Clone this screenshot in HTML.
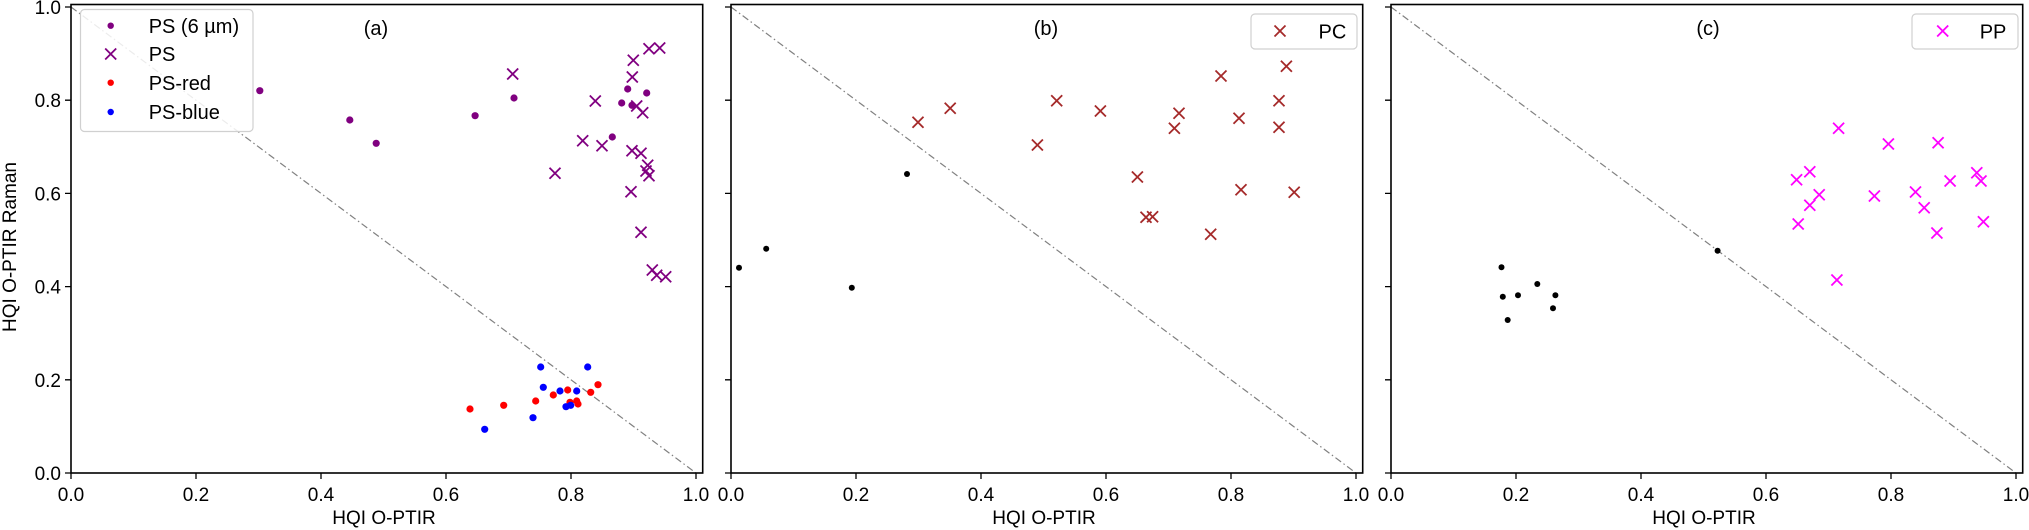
<!DOCTYPE html>
<html><head><meta charset="utf-8"><style>
html,body{margin:0;padding:0;background:#fff}
svg{display:block}
text{font-family:"Liberation Sans",sans-serif;fill:#000}
</style></head><body>
<svg width="2029" height="530" xmlns="http://www.w3.org/2000/svg">
<defs>
<g id="xp"><path d="M-5.5,-5.5L5.5,5.5M-5.5,5.5L5.5,-5.5" stroke="#800080" stroke-width="1.8"/></g>
<g id="xb"><path d="M-5.5,-5.5L5.5,5.5M-5.5,5.5L5.5,-5.5" stroke="#a52a2a" stroke-width="1.8"/></g>
<g id="xm"><path d="M-5.5,-5.5L5.5,5.5M-5.5,5.5L5.5,-5.5" stroke="#ff00ff" stroke-width="1.8"/></g>
</defs>

<!-- diagonals -->
<g stroke="#808080" stroke-width="1.2" stroke-dasharray="7,3,1.5,3" fill="none">
<line x1="71" y1="7" x2="696" y2="473"/>
<line x1="731" y1="7" x2="1356" y2="473"/>
<line x1="1391" y1="7" x2="2016" y2="473"/>
</g>

<!-- Panel a data -->
<g fill="#800080">
<circle cx="259.8" cy="90.7" r="3.6"/><circle cx="349.8" cy="120" r="3.6"/><circle cx="376.2" cy="143.3" r="3.6"/>
<circle cx="475.1" cy="115.7" r="3.6"/><circle cx="514" cy="98" r="3.6"/><circle cx="627.7" cy="89" r="3.6"/>
<circle cx="646.7" cy="93" r="3.6"/><circle cx="621.7" cy="103" r="3.6"/><circle cx="632" cy="105.3" r="3.6"/>
<circle cx="612.3" cy="137" r="3.6"/>
</g>
<g>
<use href="#xp" x="512.7" y="74"/><use href="#xp" x="595.3" y="101"/><use href="#xp" x="582.7" y="140.7"/>
<use href="#xp" x="602" y="145.7"/><use href="#xp" x="555" y="173.3"/><use href="#xp" x="633.3" y="60.3"/>
<use href="#xp" x="632.3" y="77"/><use href="#xp" x="649" y="48.7"/><use href="#xp" x="659.7" y="48"/>
<use href="#xp" x="636.7" y="106"/><use href="#xp" x="642.7" y="112.7"/><use href="#xp" x="632" y="150.7"/>
<use href="#xp" x="641" y="153.3"/><use href="#xp" x="647.7" y="165.3"/><use href="#xp" x="646" y="171"/>
<use href="#xp" x="649" y="175.7"/><use href="#xp" x="631" y="191.7"/><use href="#xp" x="641" y="232.3"/>
<use href="#xp" x="652.3" y="270"/><use href="#xp" x="656.7" y="275.3"/><use href="#xp" x="665.7" y="276.7"/>
</g>
<g fill="#ff0000">
<circle cx="470" cy="409" r="3.6"/><circle cx="503.7" cy="405.3" r="3.6"/><circle cx="535.7" cy="401" r="3.6"/>
<circle cx="553.3" cy="395" r="3.6"/><circle cx="567.7" cy="390" r="3.6"/><circle cx="590.7" cy="392.3" r="3.6"/>
<circle cx="598" cy="384.7" r="3.6"/><circle cx="570" cy="402.3" r="3.6"/><circle cx="576.7" cy="401" r="3.6"/>
<circle cx="578" cy="404" r="3.6"/>
</g>
<g fill="#0000ff">
<circle cx="540.7" cy="367" r="3.6"/><circle cx="587.7" cy="367" r="3.6"/><circle cx="543.3" cy="387.3" r="3.6"/>
<circle cx="560" cy="391" r="3.6"/><circle cx="576.7" cy="391" r="3.6"/><circle cx="566" cy="406.7" r="3.6"/>
<circle cx="570.7" cy="405.3" r="3.6"/><circle cx="533" cy="417.7" r="3.6"/><circle cx="484.7" cy="429.3" r="3.6"/>
</g>

<!-- Panel b data -->
<g>
<use href="#xb" x="918" y="122.3"/><use href="#xb" x="950.2" y="108.3"/><use href="#xb" x="1056.7" y="100.7"/>
<use href="#xb" x="1100.4" y="111"/><use href="#xb" x="1037.4" y="145"/><use href="#xb" x="1179" y="113.3"/>
<use href="#xb" x="1174.4" y="128.3"/><use href="#xb" x="1221" y="76"/><use href="#xb" x="1239" y="118.3"/>
<use href="#xb" x="1286.4" y="66.3"/><use href="#xb" x="1279" y="100.7"/><use href="#xb" x="1279" y="127.3"/>
<use href="#xb" x="1137.4" y="177"/><use href="#xb" x="1241" y="189.7"/><use href="#xb" x="1294.2" y="192.3"/>
<use href="#xb" x="1146" y="217.3"/><use href="#xb" x="1152.6" y="216.7"/><use href="#xb" x="1210.7" y="234.3"/>
</g>
<g fill="#000">
<circle cx="907" cy="174" r="3"/><circle cx="766.2" cy="248.7" r="3"/><circle cx="739" cy="267.7" r="3"/><circle cx="851.8" cy="287.7" r="3"/>
</g>

<!-- Panel c data -->
<g>
<use href="#xm" x="1838.6" y="128.3"/><use href="#xm" x="1888.4" y="144"/><use href="#xm" x="1938.1" y="142.7"/>
<use href="#xm" x="1809.8" y="171.7"/><use href="#xm" x="1796.6" y="179.7"/><use href="#xm" x="1819.2" y="194.7"/>
<use href="#xm" x="1809.8" y="205.3"/><use href="#xm" x="1798.2" y="224"/><use href="#xm" x="1874.4" y="196"/>
<use href="#xm" x="1915.5" y="192"/><use href="#xm" x="1924.2" y="207.7"/><use href="#xm" x="1950.1" y="181"/>
<use href="#xm" x="1976.8" y="172.7"/><use href="#xm" x="1981" y="181"/><use href="#xm" x="1983.4" y="221.7"/>
<use href="#xm" x="1936.9" y="233"/><use href="#xm" x="1836.9" y="280"/>
</g>
<g fill="#000">
<circle cx="1717.6" cy="250.7" r="3"/><circle cx="1501.5" cy="267.3" r="3"/><circle cx="1537.3" cy="284" r="3"/>
<circle cx="1502.8" cy="296.7" r="3"/><circle cx="1518" cy="295.3" r="3"/><circle cx="1555.4" cy="295.3" r="3"/>
<circle cx="1553" cy="308.3" r="3"/><circle cx="1507.7" cy="320" r="3"/>
</g>

<!-- spines -->
<g fill="none" stroke="#000" stroke-width="1.6">
<rect x="71" y="4.5" width="631.7" height="468.5"/>
<rect x="731" y="4.5" width="631.7" height="468.5"/>
<rect x="1391" y="4.5" width="631.7" height="468.5"/>
</g>

<!-- ticks -->
<g stroke="#000" stroke-width="1.3">
<path d="M71,473v6M196,473v6M321,473v6M446,473v6M571,473v6M696,473v6"/>
<path d="M731,473v6M856,473v6M981,473v6M1106,473v6M1231,473v6M1356,473v6"/>
<path d="M1391,473v6M1516,473v6M1641,473v6M1766,473v6M1891,473v6M2016,473v6"/>
<path d="M71,473h-6M71,379.8h-6M71,286.6h-6M71,193.4h-6M71,100.2h-6M71,7h-6"/>
<path d="M731,473h-6M731,379.8h-6M731,286.6h-6M731,193.4h-6M731,100.2h-6M731,7h-6"/>
<path d="M1391,473h-6M1391,379.8h-6M1391,286.6h-6M1391,193.4h-6M1391,100.2h-6M1391,7h-6"/>
</g>

<!-- tick labels -->
<g font-size="19" text-anchor="middle">
<text x="71" y="501">0.0</text><text x="196" y="501">0.2</text><text x="321" y="501">0.4</text><text x="446" y="501">0.6</text><text x="571" y="501">0.8</text><text x="696" y="501">1.0</text>
<text x="731" y="501">0.0</text><text x="856" y="501">0.2</text><text x="981" y="501">0.4</text><text x="1106" y="501">0.6</text><text x="1231" y="501">0.8</text><text x="1356" y="501">1.0</text>
<text x="1391" y="501">0.0</text><text x="1516" y="501">0.2</text><text x="1641" y="501">0.4</text><text x="1766" y="501">0.6</text><text x="1891" y="501">0.8</text><text x="2016" y="501">1.0</text>
</g>
<g font-size="19" text-anchor="end">
<text x="61" y="480">0.0</text><text x="61" y="386.8">0.2</text><text x="61" y="293.6">0.4</text><text x="61" y="200.4">0.6</text><text x="61" y="107.2">0.8</text><text x="61" y="14">1.0</text>
</g>

<!-- axis labels -->
<g font-size="19" text-anchor="middle">
<text x="384" y="524">HQI O-PTIR</text>
<text x="1044" y="524">HQI O-PTIR</text>
<text x="1704" y="524">HQI O-PTIR</text>
<text transform="translate(16,247) rotate(-90)">HQI O-PTIR Raman</text>
</g>

<!-- titles -->
<g font-size="20" text-anchor="middle">
<text x="376" y="35">(a)</text>
<text x="1046" y="35">(b)</text>
<text x="1708" y="35">(c)</text>
</g>

<!-- legend a -->
<rect x="80.5" y="9.5" width="172.5" height="122" rx="4" fill="#fff" fill-opacity="0.85" stroke="#d0d0d0" stroke-width="1.2"/>
<circle cx="110.7" cy="25.7" r="3.2" fill="#800080"/>
<use href="#xp" x="110.7" y="54"/>
<circle cx="110.7" cy="82.7" r="3.2" fill="#ff0000"/>
<circle cx="110.7" cy="112" r="3.2" fill="#0000ff"/>
<g font-size="20">
<text x="148.7" y="33">PS (6 µm)</text>
<text x="148.7" y="61">PS</text>
<text x="148.7" y="90">PS-red</text>
<text x="148.7" y="119">PS-blue</text>
</g>

<!-- legend b -->
<rect x="1251" y="14" width="106" height="35" rx="4" fill="#fff" stroke="#d0d0d0" stroke-width="1.2"/>
<use href="#xb" x="1280" y="31"/>
<text x="1318.5" y="38.5" font-size="20">PC</text>
<!-- legend c -->
<rect x="1912" y="14" width="106" height="35" rx="4" fill="#fff" stroke="#d0d0d0" stroke-width="1.2"/>
<use href="#xm" x="1942.7" y="31"/>
<text x="1979.7" y="38.5" font-size="20">PP</text>
</svg>
</body></html>
